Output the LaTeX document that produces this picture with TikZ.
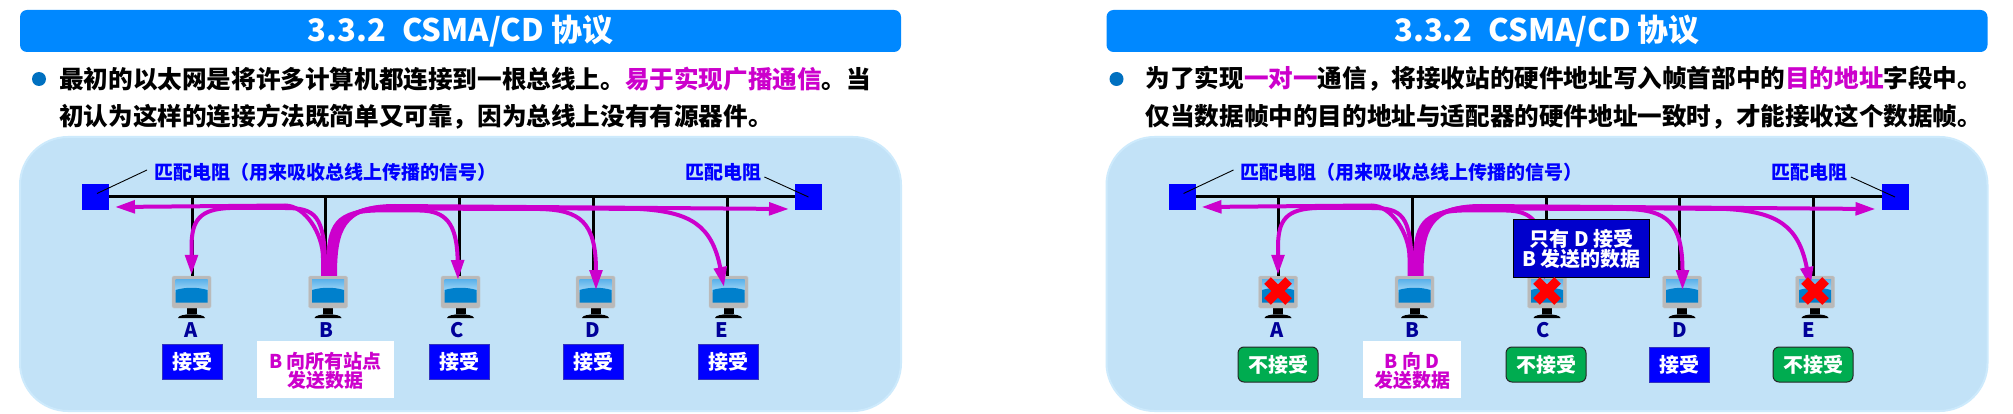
\documentclass[tikz,border=0pt]{standalone}
\usepackage{fontspec}
\setmainfont{Noto Sans CJK SC}
\usetikzlibrary{arrows.meta}
\definecolor{panelc}{HTML}{C2E2F7}
\definecolor{paneledge}{HTML}{CDEAFC}
\definecolor{titlec}{HTML}{0088FF}
\definecolor{bulletc}{HTML}{0070C0}
\definecolor{mag}{HTML}{CC00CC}
\definecolor{navyt}{HTML}{000099}
\definecolor{boxblue}{HTML}{0000FF}
\definecolor{boxdark}{HTML}{0000CC}
\definecolor{okgreen}{HTML}{00AC50}
\definecolor{scrtop}{HTML}{5CB2EA}
\definecolor{scrlight}{HTML}{A8DAF8}
\definecolor{scrlow}{HTML}{0080CC}
\newcommand{\fsz}[1]{\fontsize{#1}{#1}\selectfont\bfseries}
\tikzset{
 x=1pt,y=-1pt,
 panel/.style={draw=paneledge,line width=2pt,fill=panelc,rounded corners=48pt},
 titlebar/.style={fill=titlec,rounded corners=7pt,minimum width=881pt,minimum height=42pt,inner sep=0pt,text=white,font=\fsz{31}},
 bodytext/.style={anchor=west,inner sep=0pt,font=\fsz{24.6}},
 bulletdot/.style={circle,fill=bulletc,minimum size=14pt,inner sep=0pt},
 reslabel/.style={inner sep=0pt,text=boxblue,font=\fsz{19}},
 term/.style={rectangle,fill=boxblue,draw=none,inner sep=0pt},
 bus/.style={line width=3pt,black},
 stub/.style={line width=3pt,black},
 leader/.style={line width=.9pt,black},
 monbody/.style={rectangle,fill=gray!55!white,draw=gray!45,line width=.4pt,rounded corners=1.5pt,minimum width=39pt,minimum height=32pt,inner sep=0pt},
 stalabel/.style={inner sep=0pt,text=navyt,font=\fsz{20}},
 recvbox/.style={fill=boxblue,draw=black!10!blue!60!gray,line width=1pt,minimum width=60pt,minimum height=35pt,inner sep=0pt,text=white,font=\fsz{20}},
 rejbox/.style={fill=okgreen,draw=black!85,line width=1pt,rounded corners=6pt,minimum width=80pt,minimum height=35pt,inner sep=0pt,text=white,font=\fsz{20}},
 whitebox/.style={fill=white,inner sep=0pt,text=mag,font=\fsz{19},align=center,text depth=0pt},
 notebox/.style={fill=boxdark,draw=black,line width=1pt,minimum width=136pt,minimum height=57pt,inner sep=0pt,text=white,font=\fsz{20},align=center},
 sig/.style={mag,line width=4pt,-{Triangle[length=20pt,width=12.5pt]}},
 sigplain/.style={mag,line width=4pt},
 redx/.style={red,line width=9.5pt},
}
% monitor: #1 name, #2 x
\newcommand{\monitor}[2]{%
 \fill[black] (#2-5,308) rectangle (#2+5,314);
 \fill[black] (#2-13.5,318) .. controls (#2-13,313) and (#2+13,313) .. (#2+13.5,318) -- cycle;
 \node[monbody] (#1) at (#2,292) {};
 \shade[top color=scrtop,bottom color=scrlight] (#2-16,279.5) rectangle (#2+16,292);
 \fill[scrlow] (#2-16,290) .. controls (#2-6,287) and (#2+6,287) .. (#2+16,290) -- (#2+16,302.5) -- (#2-16,302.5) -- cycle;
}
\newcommand{\crossout}[1]{%
 \draw[redx] ([shift={(-10.5,-11.5)}]#1.center) -- ([shift={(10.5,9.5)}]#1.center);
 \draw[redx] ([shift={(10.5,-11.5)}]#1.center) -- ([shift={(-10.5,9.5)}]#1.center);
}
% common scene in local coordinates, #1 name prefix
\newcommand{\busscene}[1]{%
 \draw[panel] (20,137) rectangle (901,411);
 \node[titlebar] (#1title) at (460.5,31) {3.3.2\hspace{16pt}CSMA/CD 协议};
 \node[term] (#1rl) at (95.5,197) [minimum width=27pt,minimum height=26pt] {};
 \node[term] (#1rr) at (808.5,197) [minimum width=27pt,minimum height=26pt] {};
 \node[reslabel,anchor=west] (#1ltext) at (154,172) {匹配电阻（用来吸收总线上传播的信号）};
 \node[reslabel,anchor=west] (#1rtext) at (685,172) {匹配电阻};
 \draw[bus] (#1rl.center) -- (#1rr.center);
 \node[term] at (#1rl) [minimum width=27pt,minimum height=26pt] {};
 \node[term] at (#1rr) [minimum width=27pt,minimum height=26pt] {};
 \draw[leader] (#1rl.center) ++(1.5,-3.5) -- ([shift={(-7,-2)}]#1ltext.west);
 \draw[leader] (#1rr.center) -- ([shift={(3,5)}]#1rtext.east);
 \monitor{#1A}{191.5}
 \monitor{#1B}{328}
 \monitor{#1C}{460.5}
 \monitor{#1D}{595.5}
 \monitor{#1E}{728.5}
 \coordinate (#1bA) at (192,197); \coordinate (#1bB) at (325.5,197);
 \coordinate (#1bC) at (459.5,197); \coordinate (#1bD) at (593,197); \coordinate (#1bE) at (727,197);
 \draw[stub] (#1bA) -- (#1bA |- #1A.north);
 \draw[stub] (#1bB) -- (#1bB |- #1B.north);
 \draw[stub] (#1bC) -- (#1bC |- #1C.north);
 \draw[stub] (#1bD) -- (#1bD |- #1D.north);
 \draw[stub] (#1bE) -- (#1bE |- #1E.north);
 \node[stalabel] at (191,330) {A};
 \node[stalabel] at (326,330) {B};
 \node[stalabel] at (457,330) {C};
 \node[stalabel] at (593,330) {D};
 \node[stalabel] at (722,330) {E};
 % signals
 \coordinate (#1tl) at (115,207);
 \coordinate (#1tr) at (789,209);
 \draw[sig] ([xshift=-5pt]#1B.north) -- ++(0,-18) .. controls ++(0,-24) and (305,205.5) .. (285,205.5) -- (#1tl);
 \draw[sig] ([xshift=-3pt]#1B.north) -- ++(0,-8) .. controls (325,215) and (315,208) .. (285,208) -- (230,208) .. controls (200,209) and (192,220) .. (191.5,245) -- ([yshift=1pt]#1A.north);
 \draw[sig] ([xshift=0pt]#1B.north) .. controls (328,230) and (331,212) .. (375,210.5) -- (420,210.5) .. controls (445,211) and (457,222) .. (458,280);
 \draw[sig] ([xshift=3pt]#1B.north) .. controls (331,230) and (336,209) .. (385,208.5) -- (540,209) .. controls (580,210) and (596,222) .. (596,290);
 \draw[sig] ([xshift=5pt]#1B.north) .. controls (333,230) and (340,207) .. (390,207) -- (640,209) .. controls (690,212) and (712,225) .. (724,287);
 \draw[sig] ([xshift=7pt]#1B.north) .. controls (335,230) and (342,206) .. (395,206) -- (#1tr);
}
\begin{document}
\begin{tikzpicture}
\useasboundingbox (0,0) rectangle (2013,414);
\fill[white] (0,0) rectangle (2013,414);
% left slide
\begin{scope}
 \busscene{l}
 \node[bulletdot] (lbul) at (39,79) {};
 \node[bodytext] (lt1) at (59,79) {最初的以太网是将许多计算机都连接到一根总线上。\textcolor{mag}{易于实现广播通信}。当};
 \node[bodytext] (lt2) at (59,117) {初认为这样的连接方法既简单又可靠，因为总线上没有有源器件。};
 \node[recvbox] at (192,361.5) {接受};
 \node[whitebox,minimum width=137pt,minimum height=57pt] at (325.5,369.5) {B 向所有站点\\发送数据};
 \node[recvbox] at (459.5,361.5) {接受};
 \node[recvbox] at (593,361.5) {接受};
 \node[recvbox] at (728,361.5) {接受};
\end{scope}
% right slide
\begin{scope}[xshift=1086.5pt]
 \busscene{r}
 \node[bulletdot] (rbul) at (30,79) {};
 \node[bodytext] (rt1) at (59,79) {为了实现\textcolor{mag}{一对一}通信，将接收站的硬件地址写入帧首部中的\textcolor{mag}{目的地址}字段中。};
 \node[bodytext] (rt2) at (59,117) {仅当数据帧中的目的地址与适配器的硬件地址一致时，才能接收这个数据帧。};
 \node[notebox] at (495,248.5) {只有 D 接受\\B 发送的数据};
 \crossout{rA}
 \crossout{rC}
 \crossout{rE}
 \node[rejbox] at (191.5,364.5) {不接受};
 \node[whitebox,minimum width=98pt,minimum height=57pt] at (325.5,369.5) {B 向 D\\发送数据};
 \node[rejbox] at (459.5,364.5) {不接受};
 \node[recvbox] at (593,365) {接受};
 \node[rejbox] at (726.5,364.5) {不接受};
\end{scope}
\end{tikzpicture}
\end{document}
